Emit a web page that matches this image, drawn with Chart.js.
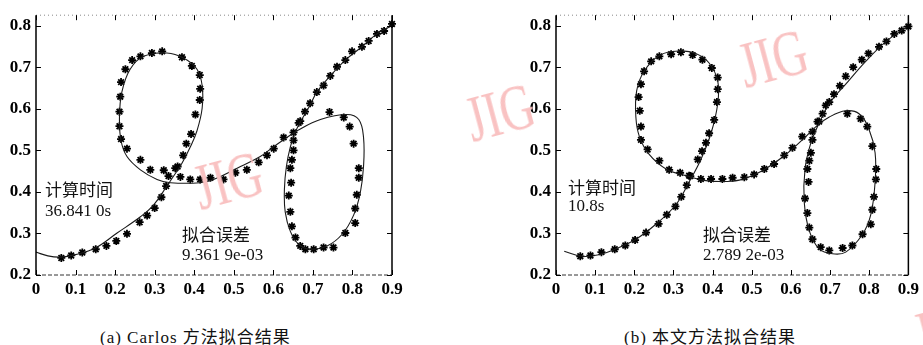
<!DOCTYPE html>
<html>
<head>
<meta charset="utf-8">
<script src="https://cdn.jsdelivr.net/npm/chart.js@4.4.0/dist/chart.umd.min.js"></script>
<style>
  body { margin: 0; background: #fff; width: 923px; height: 345px; position: relative; overflow: hidden; }
  canvas { position: absolute; top: 0; }
  #chartA { left: 0; }
  #chartB { left: 520px; }
  .note { position: absolute; color: #111; line-height: 20px; white-space: nowrap; }
  .cjk { font-family: "Noto Sans CJK SC", sans-serif; font-size: 17px; }
  .num { font-family: "Liberation Serif", serif; font-size: 17px; }
  .cap { position: absolute; top: 323px; font-family: "Liberation Serif", "Noto Sans CJK SC", serif; font-size: 17px; color: #111; white-space: nowrap; letter-spacing: 1px; }
  .cap span { font-family: "Noto Sans CJK SC", sans-serif; }
  .wm { position: absolute; font-family: "Liberation Serif", serif; font-size: 66px; line-height: 1; color: #f9c2c2; white-space: nowrap; transform: translate(-50%, -50%) rotate(-15deg) scaleX(0.72); }
</style>
</head>
<body>
<canvas id="chartA" width="460" height="300"></canvas>
<canvas id="chartB" width="403" height="300"></canvas>

<div class="wm" style="left:228px; top:180px;">JIG</div>
<div class="wm" style="left:500px; top:112px;">JIG</div>
<div class="wm" style="left:773px; top:58px;">JIG</div>
<div class="wm" style="left:948px; top:328px;">JIG</div>

<div class="note cjk" style="left:45px; top:179px;">计算时间</div>
<div class="note num" style="left:45px; top:201px;">36.841 0s</div>
<div class="note cjk" style="left:182px; top:224px;">拟合误差</div>
<div class="note num" style="left:182px; top:245px;">9.361 9e-03</div>

<div class="note cjk" style="left:568px; top:177px;">计算时间</div>
<div class="note num" style="left:568px; top:196px;">10.8s</div>
<div class="note cjk" style="left:703px; top:224px;">拟合误差</div>
<div class="note num" style="left:703px; top:245px;">2.789 2e-03</div>

<div class="cap" style="left:100px;">(a) Carlos <span>方法拟合结果</span></div>
<div class="cap" style="left:624px;">(b) <span>本文方法拟合结果</span></div>

<script>
const xTicks = [0, 0.1, 0.2, 0.3, 0.4, 0.5, 0.6, 0.7, 0.8, 0.9];
const yTicks = [0.2, 0.3, 0.4, 0.5, 0.6, 0.7, 0.8];

// (a) Carlos: fitted curve
const fitAX = [0, 0.03, 0.062, 0.1, 0.15, 0.205, 0.264, 0.297, 0.331, 0.348,
  0.369, 0.39, 0.407, 0.42, 0.42, 0.407, 0.373, 0.331, 0.272, 0.238,
  0.217, 0.211, 0.215, 0.23, 0.264, 0.306, 0.34, 0.415, 0.449, 0.517,
  0.567, 0.6, 0.635, 0.66, 0.719, 0.786, 0.816, 0.828, 0.828, 0.82,
  0.803, 0.774, 0.736, 0.693, 0.664, 0.643, 0.63, 0.628, 0.633, 0.643,
  0.655, 0.672, 0.693, 0.71, 0.744, 0.782, 0.824, 0.862, 0.9];
const fitAY = [0.255, 0.246, 0.243, 0.249, 0.265, 0.301, 0.34, 0.368, 0.414, 0.438,
  0.469, 0.508, 0.547, 0.601, 0.656, 0.695, 0.722, 0.734, 0.726, 0.695,
  0.64, 0.578, 0.523, 0.485, 0.453, 0.43, 0.422, 0.422, 0.43, 0.461,
  0.485, 0.508, 0.531, 0.547, 0.574, 0.586, 0.574, 0.531, 0.461, 0.399,
  0.344, 0.298, 0.27, 0.262, 0.274, 0.305, 0.352, 0.406, 0.461, 0.508,
  0.543, 0.574, 0.609, 0.64, 0.679, 0.717, 0.749, 0.78, 0.8];

// (a) Carlos: data points
const starAX = [0.064, 0.089, 0.117, 0.151, 0.178, 0.203, 0.23, 0.262, 0.281, 0.3,
  0.317, 0.329, 0.335, 0.358, 0.372, 0.38, 0.392, 0.403, 0.414, 0.415,
  0.414, 0.394, 0.369, 0.319, 0.293, 0.264, 0.243, 0.226, 0.215, 0.213,
  0.211, 0.211, 0.215, 0.23, 0.264, 0.289, 0.323, 0.352, 0.365, 0.39,
  0.415, 0.441, 0.474, 0.504, 0.533, 0.563, 0.584, 0.601, 0.626, 0.651,
  0.664, 0.742, 0.778, 0.793, 0.803, 0.816, 0.816, 0.811, 0.807, 0.807,
  0.782, 0.752, 0.727, 0.702, 0.681, 0.668, 0.656, 0.647, 0.643, 0.639,
  0.645, 0.643, 0.647, 0.651, 0.651, 0.668, 0.68, 0.693, 0.71, 0.727,
  0.744, 0.761, 0.782, 0.799, 0.824, 0.841, 0.862, 0.88, 0.9];
const starAY = [0.241, 0.247, 0.254, 0.262, 0.27, 0.282, 0.299, 0.327, 0.343, 0.361,
  0.387, 0.414, 0.438, 0.461, 0.488, 0.516, 0.539, 0.586, 0.621, 0.648,
  0.681, 0.703, 0.724, 0.738, 0.734, 0.726, 0.717, 0.695, 0.664, 0.629,
  0.593, 0.558, 0.527, 0.504, 0.477, 0.453, 0.452, 0.457, 0.436, 0.43,
  0.43, 0.434, 0.43, 0.446, 0.453, 0.471, 0.488, 0.504, 0.531, 0.543,
  0.566, 0.592, 0.579, 0.557, 0.516, 0.457, 0.434, 0.393, 0.36, 0.325,
  0.301, 0.266, 0.266, 0.262, 0.262, 0.27, 0.29, 0.317, 0.352, 0.391,
  0.422, 0.457, 0.477, 0.5, 0.524, 0.57, 0.593, 0.613, 0.64, 0.656,
  0.679, 0.701, 0.717, 0.738, 0.749, 0.763, 0.78, 0.787, 0.804];

// (b) this paper: fitted curve
const fitBX = [0.021, 0.068, 0.11, 0.153, 0.204, 0.255, 0.306, 0.34, 0.37, 0.396,
  0.413, 0.413, 0.391, 0.357, 0.315, 0.264, 0.225, 0.206, 0.204, 0.213,
  0.238, 0.281, 0.332, 0.383, 0.434, 0.476, 0.527, 0.587, 0.638, 0.664,
  0.698, 0.74, 0.774, 0.8, 0.815, 0.815, 0.804, 0.783, 0.74, 0.706,
  0.672, 0.647, 0.634, 0.636, 0.651, 0.668, 0.698, 0.74, 0.791, 0.842, 0.9];
const fitBY = [0.257, 0.245, 0.249, 0.263, 0.286, 0.322, 0.369, 0.424, 0.478, 0.541,
  0.612, 0.667, 0.71, 0.733, 0.739, 0.728, 0.69, 0.643, 0.58, 0.533,
  0.49, 0.455, 0.439, 0.427, 0.425, 0.43, 0.451, 0.49, 0.533, 0.557,
  0.58, 0.595, 0.588, 0.549, 0.494, 0.424, 0.345, 0.298, 0.255, 0.251,
  0.263, 0.306, 0.376, 0.455, 0.518, 0.557, 0.612, 0.659, 0.714, 0.761, 0.8];

// (b) this paper: data points
const starBX = [0.062, 0.088, 0.116, 0.15, 0.177, 0.202, 0.23, 0.262, 0.283, 0.305,
  0.32, 0.334, 0.34, 0.362, 0.373, 0.383, 0.391, 0.404, 0.411, 0.413,
  0.413, 0.398, 0.374, 0.349, 0.319, 0.294, 0.264, 0.243, 0.225, 0.217,
  0.211, 0.214, 0.217, 0.217, 0.234, 0.264, 0.289, 0.317, 0.343, 0.37,
  0.396, 0.425, 0.451, 0.481, 0.506, 0.532, 0.557, 0.583, 0.604, 0.629,
  0.655, 0.672, 0.744, 0.778, 0.795, 0.808, 0.818, 0.817, 0.812, 0.808,
  0.804, 0.783, 0.757, 0.732, 0.698, 0.676, 0.655, 0.647, 0.642, 0.636,
  0.645, 0.642, 0.647, 0.651, 0.655, 0.668, 0.681, 0.689, 0.698, 0.71,
  0.725, 0.74, 0.759, 0.781, 0.798, 0.825, 0.844, 0.864, 0.883, 0.9];
const starBY = [0.245, 0.247, 0.255, 0.262, 0.271, 0.284, 0.302, 0.323, 0.345, 0.365,
  0.388, 0.416, 0.439, 0.478, 0.498, 0.518, 0.541, 0.573, 0.616, 0.647,
  0.675, 0.698, 0.718, 0.729, 0.736, 0.731, 0.726, 0.714, 0.69, 0.659,
  0.628, 0.595, 0.557, 0.525, 0.502, 0.475, 0.453, 0.446, 0.438, 0.431,
  0.431, 0.431, 0.434, 0.435, 0.442, 0.455, 0.467, 0.488, 0.506, 0.533,
  0.545, 0.569, 0.588, 0.576, 0.557, 0.51, 0.455, 0.43, 0.388, 0.357,
  0.322, 0.298, 0.271, 0.265, 0.259, 0.267, 0.286, 0.314, 0.349, 0.384,
  0.424, 0.455, 0.475, 0.494, 0.525, 0.569, 0.588, 0.608, 0.616, 0.635,
  0.655, 0.678, 0.7, 0.718, 0.733, 0.749, 0.762, 0.78, 0.788, 0.798];

function pts(xs, ys) {
  return xs.map((x, i) => ({ x: x, y: ys[i] }));
}

const tickFont = { family: '"Liberation Serif", serif', size: 17, weight: 'bold' };

// box round the plot, with short ticks pointing inwards on all four sides
const framePlugin = {
  id: 'frame',
  afterDraw(chart) {
    const ctx = chart.ctx;
    const a = chart.chartArea;
    const sx = chart.scales.x, sy = chart.scales.y;
    ctx.save();
    ctx.strokeStyle = '#000';
    ctx.lineWidth = 1.5;
    ctx.beginPath();
    ctx.moveTo(a.left, a.top); ctx.lineTo(a.left, a.bottom);
    ctx.moveTo(a.right, a.top); ctx.lineTo(a.right, a.bottom);
    ctx.stroke();
    ctx.lineWidth = 1;
    ctx.strokeStyle = '#333';
    ctx.setLineDash([4, 2]);
    ctx.beginPath();
    ctx.moveTo(a.left, a.bottom); ctx.lineTo(a.right, a.bottom);
    ctx.stroke();
    ctx.strokeStyle = '#888';
    ctx.setLineDash([1, 3]);
    ctx.beginPath();
    ctx.moveTo(a.left, a.top); ctx.lineTo(a.right, a.top);
    ctx.stroke();
    ctx.setLineDash([]);
    ctx.strokeStyle = '#000';
    ctx.beginPath();
    sx.ticks.forEach(t => {
      const p = Math.round(sx.getPixelForValue(t.value)) + 0.5;
      ctx.moveTo(p, a.bottom); ctx.lineTo(p, a.bottom - 5);
      ctx.moveTo(p, a.top); ctx.lineTo(p, a.top + 5);
    });
    sy.ticks.forEach(t => {
      const p = Math.round(sy.getPixelForValue(t.value)) + 0.5;
      ctx.moveTo(a.left, p); ctx.lineTo(a.left + 5, p);
      ctx.moveTo(a.right, p); ctx.lineTo(a.right - 5, p);
    });
    ctx.stroke();
    ctx.restore();
  }
};

function makeChart(id, fit, stars, pad) {
  new Chart(document.getElementById(id), {
    type: 'scatter',
    data: {
      datasets: [
        {
          data: fit,
          showLine: true,
          borderColor: '#1a1a1a',
          borderWidth: 1.1,
          pointRadius: 0,
          tension: 0.4,
          fill: false
        },
        {
          data: stars,
          pointStyle: 'star',
          pointRadius: 4,
          borderColor: '#000',
          backgroundColor: '#000',
          borderWidth: 1.8,
          clip: false
        }
      ]
    },
    options: {
      responsive: false,
      animation: false,
      layout: { padding: pad },
      plugins: { legend: { display: false }, tooltip: { enabled: false } },
      scales: {
        x: {
          type: 'linear', min: 0, max: 0.9,
          afterBuildTicks: s => { s.ticks = xTicks.map(v => ({ value: v })); },
          afterFit: s => { s.height = 25; },
          grid: { display: false, drawTicks: false },
          border: { display: false },
          ticks: {
            padding: 4, color: '#000', font: tickFont, maxRotation: 0, autoSkip: false,
            callback: v => String(Math.round(v * 10) / 10)
          }
        },
        y: {
          type: 'linear', min: 0.2, max: 0.825,
          afterBuildTicks: s => { s.ticks = yTicks.map(v => ({ value: v })); },
          afterFit: s => { s.width = 36; },
          grid: { display: false, drawTicks: false },
          border: { display: false },
          ticks: {
            padding: 5, color: '#000', font: tickFont,
            callback: v => String(Math.round(v * 10) / 10)
          }
        }
      }
    },
    plugins: [framePlugin]
  });
}

makeChart('chartA', pts(fitAX, fitAY), pts(starAX, starAY), { left: 0, right: 68, top: 8, bottom: 0 });
makeChart('chartB', pts(fitBX, fitBY), pts(starBX, starBY), { left: 0, right: 14, top: 9, bottom: 0 });
</script>
</body>
</html>
